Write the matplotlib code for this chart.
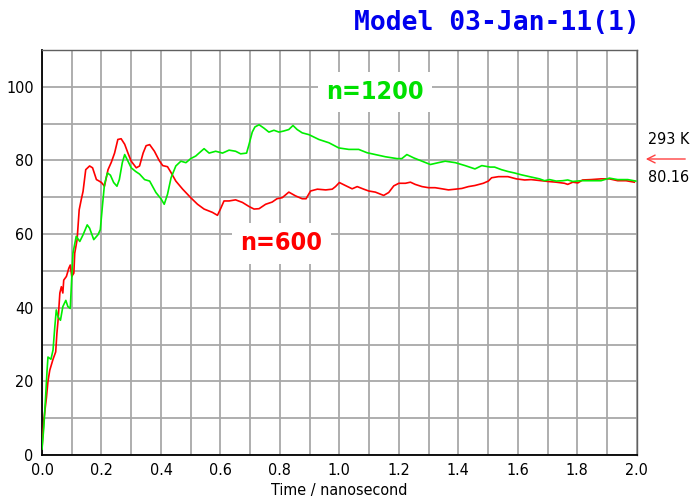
import matplotlib
matplotlib.use("Agg")
import matplotlib.pyplot as plt
from matplotlib.ticker import MultipleLocator

plt.rcParams["font.family"] = "DejaVu Sans"
plt.rcParams["font.stretch"] = "condensed"

# temperature traces, n=600
t_600 = [0.0, 0.006, 0.015, 0.02, 0.026, 0.037, 0.046, 0.05, 0.054, 0.06, 0.065, 0.07,
         0.073, 0.082, 0.09, 0.095, 0.1, 0.107, 0.11, 0.118, 0.125, 0.132, 0.138, 0.147,
         0.16, 0.17, 0.183, 0.19, 0.2, 0.21, 0.222, 0.233, 0.244, 0.255, 0.266, 0.278,
         0.289, 0.3, 0.317, 0.328, 0.34, 0.35, 0.362, 0.378, 0.394, 0.406, 0.422, 0.434,
         0.45, 0.473, 0.5, 0.523, 0.545, 0.573, 0.59, 0.6, 0.612, 0.629, 0.651, 0.674,
         0.696, 0.713, 0.73, 0.752, 0.774, 0.79, 0.808, 0.83, 0.852, 0.875, 0.888, 0.903,
         0.926, 0.954, 0.976, 0.987, 1.0, 1.02, 1.043, 1.06, 1.082, 1.099, 1.121, 1.149,
         1.166, 1.183, 1.2, 1.222, 1.239, 1.255, 1.278, 1.3, 1.322, 1.345, 1.367, 1.39,
         1.412, 1.434, 1.456, 1.484, 1.501, 1.512, 1.535, 1.567, 1.595, 1.623, 1.645,
         1.679, 1.701, 1.729, 1.757, 1.768, 1.785, 1.802, 1.818, 1.846, 1.88, 1.908,
         1.936, 1.964, 1.992]
temp_600 = [2, 9.4, 15.7, 20, 23, 26, 28, 33, 36.6, 44, 45.7, 44,
            47.5, 48.5, 50.7, 51.6, 48.5, 49.4, 54.8, 58.5, 66.6, 69.4, 71.6, 77.5,
            78.5, 78, 74.8, 74.5, 74, 73, 77.5, 79.5, 82, 85.7, 85.9, 84.4,
            82, 79.8, 78, 78.5, 82, 84, 84.3, 82.5, 80, 78.6, 78.3, 76.7,
            74.4, 72.2, 69.9, 68.1, 66.8, 65.9, 65.1, 66.8, 69, 69, 69.3, 68.6,
            67.5, 66.8, 66.9, 68.1, 68.7, 69.6, 69.9, 71.4, 70.4, 69.6, 69.6, 71.7,
            72.2, 72, 72.2, 72.9, 74, 73.2, 72.3, 72.9, 72.2, 71.7, 71.4, 70.5,
            71.3, 73.1, 73.8, 73.8, 74.1, 73.5, 72.9, 72.6, 72.6, 72.3, 72, 72.2,
            72.4, 72.9, 73.2, 73.8, 74.4, 75.3, 75.6, 75.6, 75, 74.7, 74.8,
            74.5, 74.3, 74.1, 73.8, 73.5, 74.1, 73.9, 74.7, 74.8, 75, 75,
            74.5, 74.5, 74.1]

# temperature traces, n=1200
t_1200 = [0.0, 0.006, 0.012, 0.017, 0.02, 0.03, 0.037, 0.043, 0.048, 0.054, 0.062, 0.07,
          0.08, 0.087, 0.095, 0.104, 0.115, 0.127, 0.138, 0.152, 0.16, 0.174, 0.188,
          0.196, 0.203, 0.21, 0.22, 0.23, 0.241, 0.252, 0.26, 0.27, 0.278, 0.289, 0.3,
          0.315, 0.328, 0.345, 0.362, 0.383, 0.4, 0.411, 0.422, 0.434, 0.45, 0.467,
          0.484, 0.5, 0.517, 0.528, 0.545, 0.562, 0.584, 0.607, 0.629, 0.651, 0.668,
          0.688, 0.696, 0.707, 0.716, 0.73, 0.746, 0.763, 0.78, 0.797, 0.813, 0.83,
          0.844, 0.858, 0.875, 0.898, 0.931, 0.965, 0.998, 1.032, 1.065, 1.093, 1.121,
          1.155, 1.194, 1.21, 1.227, 1.25, 1.278, 1.306, 1.333, 1.356, 1.39, 1.423,
          1.456, 1.479, 1.507, 1.522, 1.545, 1.567, 1.589, 1.612, 1.645, 1.673, 1.69,
          1.707, 1.729, 1.751, 1.768, 1.785, 1.813, 1.846, 1.88, 1.908, 1.936, 1.97,
          1.997]
temp_1200 = [1.6, 7.5, 15.7, 23, 26.6, 26, 28.5, 34.8, 39.4, 37.5, 36.6, 40.3,
             42, 40.3, 39.8, 54.8, 59.4, 58, 59.8, 62.5, 61.6, 58.5, 59.8,
             61.2, 67.5, 73.5, 76.6, 76, 74, 73, 74.8, 79.4, 81.6, 79.8, 78,
             77, 76.3, 74.8, 74.4, 71.3, 69.6, 68.1, 70.8, 75.3, 78.5, 79.8,
             79.4, 80.5, 81.2, 82, 83.2, 82, 82.5, 82, 82.8, 82.5, 81.8,
             82, 84.3, 87.7, 89.1, 89.7, 88.8, 87.7, 88.2, 87.7, 88, 88.4,
             89.5, 88.4, 87.5, 87, 85.7, 84.8, 83.4, 83, 83, 82.1, 81.6,
             81, 80.5, 80.5, 81.6, 80.7, 79.8, 78.9, 79.4, 79.8, 79.4, 78.6,
             77.7, 78.6, 78.2, 78.2, 77.5, 77, 76.6, 76.1, 75.5, 75, 74.5,
             74.8, 74.4, 74.5, 74.7, 74.3, 74.5, 74.5, 74.5, 75.2, 74.8, 74.8,
             74.4]

fig = plt.figure(figsize=(6.98, 5.0), dpi=100)
ax = fig.add_axes([0.0602, 0.09, 0.852, 0.81])

ax.plot(t_600, temp_600, color="#ff0000", lw=1.2, zorder=3)
ax.plot(t_1200, temp_1200, color="#00ee00", lw=1.2, zorder=3)

ax.set_xlim(0, 2.0)
ax.set_ylim(0, 110)
ax.xaxis.set_major_locator(MultipleLocator(0.2))
ax.xaxis.set_minor_locator(MultipleLocator(0.1))
ax.yaxis.set_minor_locator(MultipleLocator(10))
ax.set_yticks([0, 20, 40, 60, 80, 100])
ax.grid(which="both", color="#a8a8a8", lw=1.3, zorder=0)
ax.tick_params(which="both", length=0, labelsize=11.5, pad=6)
ax.xaxis.set_major_formatter(plt.FuncFormatter(lambda v, p: f"{v:.1f}"))

for side in ["left", "bottom"]:
    ax.spines[side].set_color("black")
    ax.spines[side].set_linewidth(1.3)
for side in ["top", "right"]:
    ax.spines[side].set_color("#606060")
    ax.spines[side].set_linewidth(1.0)

ax.set_xlabel("Time / nanosecond", fontsize=11.5, labelpad=3)

# series labels on white patches
ax.text(1.12, 98.6, "n=1200", color="#00e000", fontsize=18, fontweight="bold",
        ha="center", va="center", zorder=4,
        bbox=dict(facecolor="white", edgecolor="none", pad=6))
ax.text(0.805, 57.5, "n=600", color="#ff0000", fontsize=18, fontweight="bold",
        ha="center", va="center", zorder=4,
        bbox=dict(facecolor="white", edgecolor="none", pad=6))

fig.text(0.917, 1 - 23 / 500, "Model 03-Jan-11(1)", color="#0000ee",
         family="DejaVu Sans Mono", fontweight="bold", fontsize=19,
         fontstretch="normal", ha="right", va="center")

# reference temperature marker on the right
fig.text(648 / 698, 1 - 140 / 500, "293 K", fontsize=11.5, ha="left", va="center")
fig.text(648 / 698, 1 - 178 / 500, "80.16", fontsize=11.5, ha="left", va="center")
ax.annotate("", xy=(643 / 698, 1 - 159 / 500), xytext=(688 / 698, 1 - 159 / 500),
            xycoords="figure fraction", textcoords="figure fraction",
            arrowprops=dict(arrowstyle="->", color="#ff4040", lw=1.0,
                            mutation_scale=14))

fig.savefig("out.png", dpi=100)
